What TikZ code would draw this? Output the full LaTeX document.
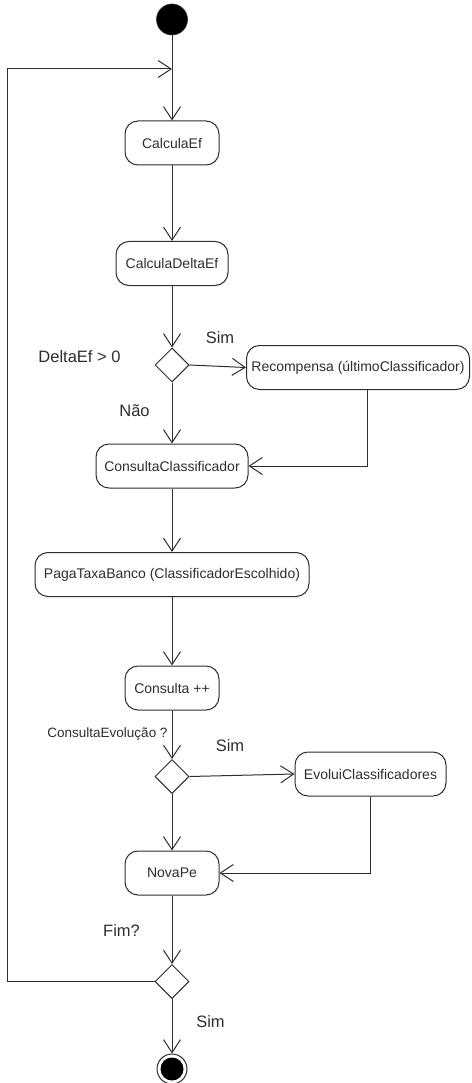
\documentclass[tikz,border=0pt]{standalone}
\usepackage{fontspec}
\setmainfont{Liberation Sans}
\usetikzlibrary{arrows.meta,shapes.geometric}
\definecolor{ink}{HTML}{2E2E2E}
\tikzset{
  act/.style={draw=ink, line width=1pt, rounded corners=13pt, fill=white,
    inner sep=0pt, minimum height=44pt, text=ink, font=\fontsize{14}{16}\selectfont},
  choice/.style={draw=ink, line width=1pt, diamond, fill=white, inner sep=0pt,
    minimum width=34pt, minimum height=34pt},
  lbl/.style={text=ink, inner sep=0pt, font=\fontsize{16.5}{19}\selectfont},
  flow/.style={draw=ink, line width=1pt, -{Straight Barb[length=13pt,width=17pt,line width=1pt]}},
  plain/.style={draw=ink, line width=1pt},
}
\begin{document}
\begin{tikzpicture}[x=1pt,y=-1pt]
\useasboundingbox (0,0) rectangle (471,1083);

% initial and final states
\node[circle, fill=black, draw=ink, line width=0.6pt, minimum size=31pt, inner sep=0pt] (start) at (172,19.5) {};
\node[circle, fill=white, draw=ink, line width=1pt, minimum size=30pt, inner sep=0pt] (stop) at (172,1069) {};
\node[circle, fill=black, minimum size=23pt, inner sep=0pt] (stopdot) at (172,1069) {};

% activities
\node[act, minimum width=94pt]  (cef)  at (172,143)   {CalculaEf};
\node[act, minimum width=112pt] (cdef) at (172,263.5) {CalculaDeltaEf};
\node[act, minimum width=223pt] (rec)  at (358,367.5) {Recompensa (últimoClassificador)};
\node[act, minimum width=152pt] (cc)   at (172,466)   {ConsultaClassificador};
\node[act, minimum width=274pt] (ptb)  at (172,574.5) {PagaTaxaBanco (ClassificadorEscolhido)};
\node[act, minimum width=94pt]  (cpp)  at (172,688)   {Consulta ++};
\node[act, minimum width=151pt] (evo)  at (370.5,774) {EvoluiClassificadores};
\node[act, minimum width=94pt]  (npe)  at (172,873)   {NovaPe};

% decisions
\node[choice] (d1) at (172,365)   {};
\node[choice] (d2) at (172,776.5) {};
\node[choice] (d3) at (172,981.5) {};

% guard labels
\node[lbl] (l1) at (220,338)   {Sim};
\node[lbl] (l2) at (79.5,357)  {DeltaEf > 0};
\node[lbl] (l3) at (134.5,411) {Não};
\node[lbl, font=\fontsize{13.5}{16}\selectfont] (l4) at (107.5,734) {ConsultaEvolução ?};
\node[lbl] (l5) at (230,746)   {Sim};
\node[lbl] (l6) at (121.5,931) {Fim?};
\node[lbl] (l7) at (210.5,1022) {Sim};

% loop junction points
\coordinate (join) at (172,69);
\coordinate (lowleft) at (7.5,981.5);
\coordinate (upleft) at (7.5,69);

% control flow
\draw[flow] (start) -- (cef);
\draw[flow] (cef) -- (cdef);
\draw[flow] (cdef) -- (d1.north);
\draw[flow] (d1.east) -- (rec.west);
\draw[flow] (d1.south) -- (cc.north);
\draw[flow] ([xshift=9pt]rec.south) |- (cc.east);
\draw[flow] (cc) -- (ptb);
\draw[flow] (ptb) -- (cpp);
\draw[flow] (cpp) -- (d2.north);
\draw[flow] (d2.east) -- (evo.west);
\draw[flow] (d2.south) -- (npe.north);
\draw[flow] (evo.south) |- (npe.east);
\draw[flow] (npe) -- (d3.north);
\draw[flow] (d3.south) -- (stop.north);
\draw[flow] (d3.west) -- (lowleft) -- (upleft) -- (join);
\end{tikzpicture}
\end{document}
